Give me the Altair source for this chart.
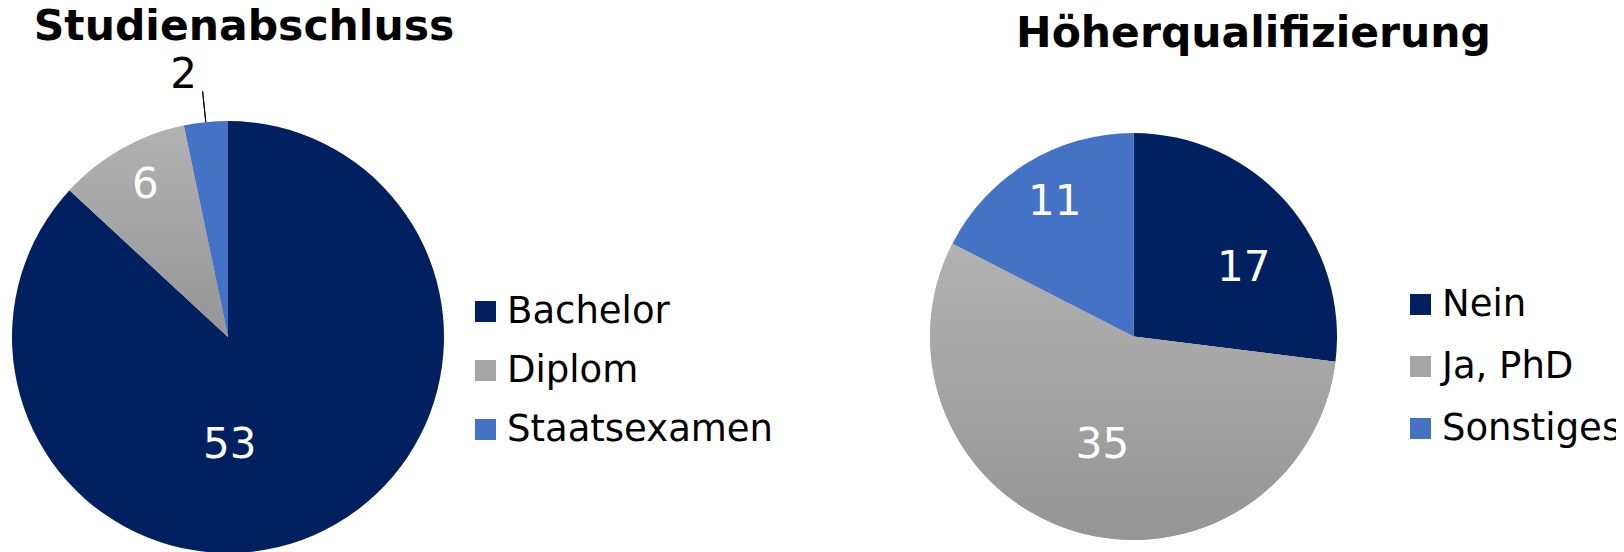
import altair as alt
import pandas as pd

titles = ["Studienabschluss", "Höherqualifizierung"]
abschluss_cats = ["Bachelor", "Diplom", "Staatsexamen"]
abschluss_vals = [53, 6, 2]
quali_cats = ["Nein", "Ja, PhD", "Sonstiges"]
quali_vals = [17, 35, 11]
palette = ["#002060", "#A6A6A6", "#4472C4"]

FONT = "DejaVu Sans"


def table(cats, vals):
    total = sum(vals)
    rows, acc = [], 0
    for c, v in zip(cats, vals):
        s = acc / total
        acc += v
        e = acc / total
        rows.append({"Kategorie": c, "Wert": v, "start": s, "end": e, "mid": (s + e) / 2})
    return pd.DataFrame(rows)


df_a = table(abschluss_cats, abschluss_vals)
df_q = table(quali_cats, quali_vals)

TH = alt.Scale(domain=[0, 1])
grad = alt.Gradient(
    gradient="linear",
    stops=[alt.GradientStop(color="#B2B2B2", offset=0), alt.GradientStop(color="#959595", offset=1)],
    x1=0, x2=0, y1=0, y2=1,
)


def pie(df, cats, cx, cy, r, lx, ly, row_pad, labels, leader=None):
    layers = []
    base = alt.Chart(df)
    layers.append(
        base.mark_arc(radius=r).encode(
            theta=alt.Theta("start:Q", scale=TH, stack=None),
            theta2=alt.Theta2("end"),
            color=alt.Color(
                "Kategorie:N",
                scale=alt.Scale(domain=cats, range=palette),
                sort=cats,
                legend=alt.Legend(
                    title=None, orient="none", legendX=lx, legendY=ly,
                    symbolType="square", symbolSize=441, symbolStrokeWidth=0,
                    symbolOpacity=1, labelFontSize=37, labelFont=FONT,
                    labelColor="black", rowPadding=row_pad, labelOffset=3,
                    padding=0, labelLimit=400,
                ),
            ),
            x=alt.value(cx), y=alt.value(cy),
        )
    )
    # gradient for the grey slice
    layers.append(
        base.transform_filter(alt.datum.Kategorie == cats[1]).mark_arc(radius=r, fill=grad).encode(
            theta=alt.Theta("start:Q", scale=TH, stack=None),
            theta2=alt.Theta2("end"),
            x=alt.value(cx), y=alt.value(cy),
        )
    )
    if leader is not None:
        cat, r_out = leader
        layers.append(
            base.transform_filter(alt.datum.Kategorie == cat).mark_arc(
                radius=r_out, radius2=r, fill="transparent", stroke="black", strokeWidth=1
            ).encode(
                theta=alt.Theta("mid:Q", scale=TH, stack=None),
                theta2=alt.Theta2("mid"),
                x=alt.value(cx), y=alt.value(cy),
            )
        )
    for cat, rad, dx, dy, col in labels:
        layers.append(
            base.transform_filter(alt.datum.Kategorie == cat).mark_text(
                radius=rad, dx=dx, dy=dy, font=FONT, fontSize=42, color=col,
                align="center", baseline="middle",
            ).encode(
                theta=alt.Theta("mid:Q", scale=TH, stack=None),
                text=alt.Text("Wert:Q"),
                x=alt.value(cx), y=alt.value(cy),
            )
        )
    return layers


left = pie(
    df_a, abschluss_cats, 220, 329, 216, 459, 285, 21,
    [("Bachelor", 106.5, -41, 10, "white"),
     ("Diplom", 174, 3, -1, "white"),
     ("Staatsexamen", 266, -17, 3, "black")],
    leader=("Staatsexamen", 247),
)
right = pie(
    df_q, quali_cats, 1125.5, 328.5, 203.5, 1394, 278, 24,
    [("Nein", 131, 12, 18, "white"),
     ("Ja, PhD", 112, 2, 1, "white"),
     ("Sonstiges", 157, 3, -1, "white")],
)

title_df = pd.DataFrame({"t": titles})
t1 = alt.Chart(title_df).transform_filter(alt.datum.t == titles[0]).mark_text(
    font=FONT, fontSize=42.5, fontWeight="bold", color="black", align="center", baseline="alphabetic"
).encode(text="t:N", x=alt.value(236), y=alt.value(32))
t2 = alt.Chart(title_df).transform_filter(alt.datum.t == titles[1]).mark_text(
    font=FONT, fontSize=42.5, fontWeight="bold", color="black", align="center", baseline="alphabetic"
).encode(text="t:N", x=alt.value(1245.5), y=alt.value(39))

chart = alt.layer(*left, *right, t1, t2).resolve_scale(color="independent").properties(
    width=1608, height=544, padding=0, autosize=alt.AutoSizeParams(type="none")
).configure_view(strokeWidth=0)

chart.save("out.html", embed_options={"renderer": "svg", "actions": False})
